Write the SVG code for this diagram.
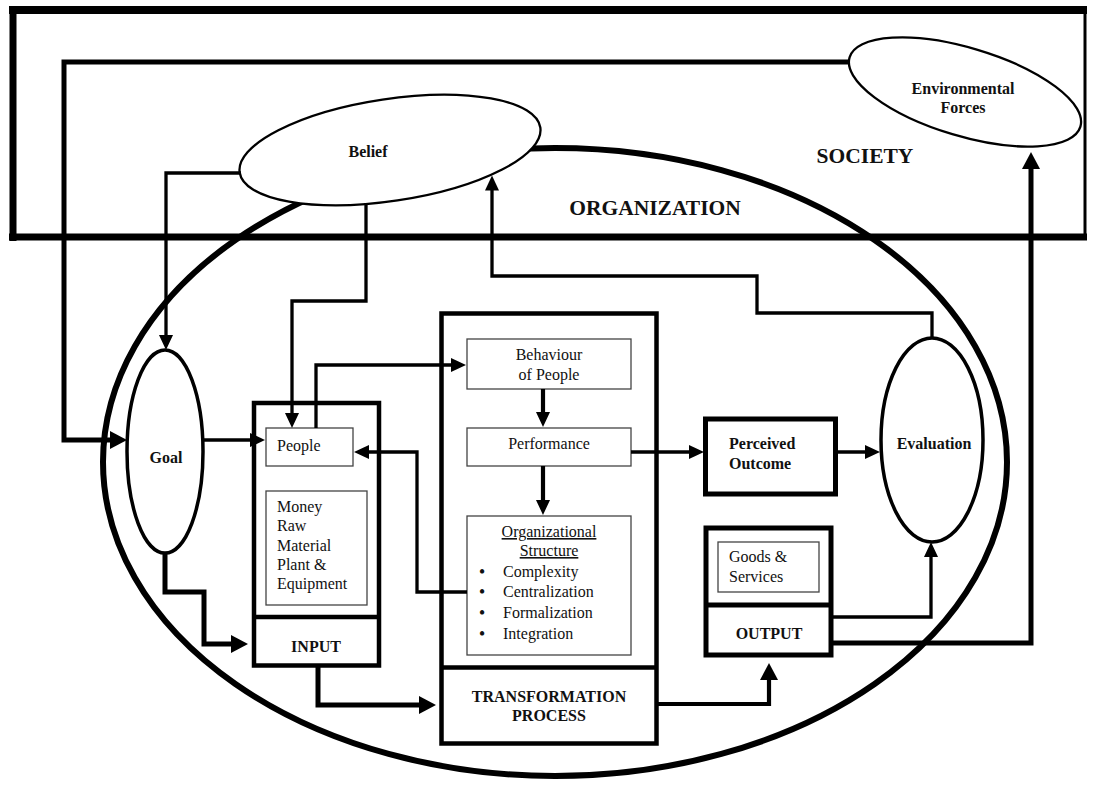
<svg xmlns="http://www.w3.org/2000/svg" width="1093" height="785" viewBox="0 0 1093 785">
<style>
.t{font-family:"Liberation Serif","Times New Roman",serif;font-size:16px;fill:#111}
.b{font-weight:bold}
.big{font-family:"Liberation Serif","Times New Roman",serif;font-size:21.5px;font-weight:bold;fill:#111}
.c{text-anchor:middle}
.bul{font-family:"Liberation Serif","Times New Roman",serif;font-size:16px;font-weight:bold;fill:#111;text-anchor:middle}
.thin{fill:none;stroke:#444;stroke-width:1.3}
.box{fill:none;stroke:#000;stroke-width:4.5}
.box5{fill:none;stroke:#000;stroke-width:5}
.ell{fill:#fff;stroke:#000}
.cn{fill:none;stroke:#000;stroke-linejoin:miter;stroke-linecap:butt}
.s3{stroke-width:3.3}
.s4{stroke-width:4.2}
.s5{stroke-width:5}
.u{text-decoration:underline}
</style>
<defs>
<marker id="ah" markerUnits="userSpaceOnUse" markerWidth="15" markerHeight="14" refX="9" refY="7" orient="auto">
<path d="M0,0 L15,7 L0,14 Z" fill="#000"/>
</marker>
<marker id="ahb" markerUnits="userSpaceOnUse" markerWidth="17" markerHeight="18" refX="11" refY="9" orient="auto">
<path d="M0,0 L17,9 L0,18 Z" fill="#000"/>
</marker>
</defs>
<rect width="1093" height="785" fill="#fff"/>

<g id="society">
<line x1="9" y1="10" x2="1087" y2="10" stroke="#000" stroke-width="8"/>
<line x1="13" y1="6" x2="13" y2="241" stroke="#000" stroke-width="7"/>
<line x1="9" y1="237" x2="1087" y2="237" stroke="#000" stroke-width="7"/>
<line x1="1085" y1="10" x2="1085" y2="237" stroke="#000" stroke-width="3"/>
<text class="big c" x="865" y="163">SOCIETY</text>
</g>

<g id="organization">
<ellipse cx="555" cy="462" rx="452" ry="314" fill="none" stroke="#000" stroke-width="6"/>
<text class="big c" x="655" y="215">ORGANIZATION</text>
</g>

<g id="belief">
<ellipse class="ell" cx="390" cy="150" rx="152" ry="51" transform="rotate(-8.5 390 150)" stroke-width="2.3"/>
<text class="t b c" x="368" y="157">Belief</text>
</g>

<g id="environmental-forces">
<ellipse class="ell" cx="965" cy="92" rx="120.5" ry="44" transform="rotate(16.7 965 92)" stroke-width="2.3"/>
<text class="t b c" x="963" y="94">Environmental</text>
<text class="t b c" x="963" y="113">Forces</text>
</g>

<g id="goal">
<ellipse class="ell" cx="165" cy="451.5" rx="38" ry="101.5" stroke-width="3.5"/>
<text class="t b c" x="166" y="463">Goal</text>
</g>

<g id="input">
<rect class="box" x="254" y="403" width="125" height="262.5"/>
<line x1="254" y1="617" x2="379" y2="617" stroke="#000" stroke-width="4.5"/>
<text class="t b c" x="316" y="652">INPUT</text>
</g>

<g id="people">
<rect class="thin" x="266" y="428" width="87" height="38"/>
<text class="t" x="277" y="451">People</text>
</g>

<g id="resources">
<rect class="thin" x="266" y="491" width="101" height="114"/>
<text class="t" x="277" y="512">Money</text>
<text class="t" x="277" y="531">Raw</text>
<text class="t" x="277" y="551">Material</text>
<text class="t" x="277" y="570">Plant &amp;</text>
<text class="t" x="277" y="589">Equipment</text>
</g>

<g id="transformation">
<rect class="box" x="441.5" y="313.5" width="215" height="430"/>
<line x1="441.5" y1="667.5" x2="656.5" y2="667.5" stroke="#000" stroke-width="4.5"/>
<text class="t b c" x="549" y="702">TRANSFORMATION</text>
<text class="t b c" x="549" y="721">PROCESS</text>
</g>

<g id="behaviour">
<rect class="thin" x="467" y="339" width="164" height="50"/>
<text class="t c" x="549" y="360">Behaviour</text>
<text class="t c" x="549" y="380">of People</text>
</g>

<g id="performance">
<rect class="thin" x="467" y="428" width="164" height="38"/>
<text class="t c" x="549" y="449">Performance</text>
</g>

<g id="org-structure">
<rect class="thin" x="467" y="516" width="164" height="139"/>
<text class="t c u" x="549" y="537">Organizational</text>
<text class="t c u" x="549" y="556">Structure</text>
<text class="bul" x="482" y="577">•</text>
<text class="t" x="503" y="577">Complexity</text>
<text class="bul" x="482" y="597">•</text>
<text class="t" x="503" y="597">Centralization</text>
<text class="bul" x="482" y="618">•</text>
<text class="t" x="503" y="618">Formalization</text>
<text class="bul" x="482" y="639">•</text>
<text class="t" x="503" y="639">Integration</text>
</g>

<g id="perceived-outcome">
<rect class="box5" x="705.5" y="419" width="130" height="75"/>
<text class="t b" x="729" y="449">Perceived</text>
<text class="t b" x="729" y="469">Outcome</text>
</g>

<g id="output">
<rect class="box5" x="706" y="528" width="125" height="127"/>
<line x1="706" y1="605" x2="831" y2="605" stroke="#000" stroke-width="5"/>
<text class="t b c" x="769" y="639">OUTPUT</text>
</g>

<g id="goods-services">
<rect class="thin" x="718" y="542" width="101" height="50"/>
<text class="t" x="729" y="562">Goods &amp;</text>
<text class="t" x="729" y="582">Services</text>
</g>

<g id="evaluation">
<ellipse class="ell" cx="932" cy="440" rx="51" ry="102" stroke-width="3.5"/>
<text class="t b c" x="934" y="449">Evaluation</text>
</g>

<g id="connectors">
<path class="cn s5" d="M849,62 H64 V440 H121" marker-end="url(#ahb)"/>
<path class="cn s3" d="M241,173 H166 V344" marker-end="url(#ah)"/>
<path class="cn s3" d="M366,203 V301 H292 V422" marker-end="url(#ah)"/>
<path class="cn s3" d="M202,440 H259" marker-end="url(#ah)"/>
<path class="cn s3" d="M316,428 V365 H460" marker-end="url(#ah)"/>
<path class="cn s3" d="M467,592 H417 V452 H360" marker-end="url(#ah)"/>
<path class="cn s4" d="M543,389 V421" marker-end="url(#ah)"/>
<path class="cn s4" d="M543,466 V509" marker-end="url(#ah)"/>
<path class="cn s3" d="M631,452 H698" marker-end="url(#ah)"/>
<path class="cn s3" d="M836,452 H874" marker-end="url(#ah)"/>
<path class="cn s3" d="M932,338 V313 H757 V276 H492 V181.5" marker-end="url(#ah)"/>
<path class="cn s5" d="M165,553 V592 H204 V644 H242" marker-end="url(#ahb)"/>
<path class="cn s5" d="M318,666 V705 H430" marker-end="url(#ahb)"/>
<path class="cn s4" d="M656,704 H769 V669" marker-end="url(#ahb)"/>
<path class="cn s3" d="M831,617 H931 V548" marker-end="url(#ah)"/>
<path class="cn s5" d="M831,643 H1031 V158" marker-end="url(#ahb)"/>
</g>
</svg>
